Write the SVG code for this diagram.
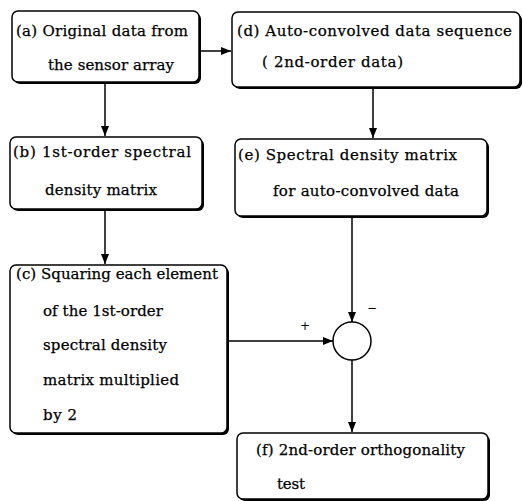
<svg xmlns="http://www.w3.org/2000/svg" width="523" height="501" viewBox="0 0 523 501">
<defs>
<marker id="ah" markerWidth="10" markerHeight="8" refX="10" refY="4" orient="auto" markerUnits="userSpaceOnUse">
<path d="M0,0 L10,4 L0,8 Z" fill="#000"/>
</marker>
</defs>
<style>
.sh{fill:#000;}
.bx{fill:#fff;stroke:#000;stroke-width:1.5;}
.t{font-family:"DejaVu Serif","Liberation Serif",serif;font-size:15px;fill:#000;stroke:#000;stroke-width:0.25;}
.c{fill:none;stroke:#000;stroke-width:1.5;}
.s{font-family:"DejaVu Sans",sans-serif;font-size:12px;fill:#000;}
</style>
<rect width="523" height="501" fill="#fff"/>
<g id="conn">
<line class="c" x1="199" y1="51" x2="231" y2="51" marker-end="url(#ah)"/>
<line class="c" x1="105" y1="83" x2="105" y2="136" marker-end="url(#ah)"/>
<line class="c" x1="105" y1="210" x2="105" y2="264" marker-end="url(#ah)"/>
<line class="c" x1="373" y1="88" x2="373" y2="138" marker-end="url(#ah)"/>
<line class="c" x1="352" y1="217" x2="352" y2="322" marker-end="url(#ah)"/>
<line class="c" x1="228" y1="341" x2="333" y2="341" marker-end="url(#ah)"/>
<line class="c" x1="352" y1="360" x2="352" y2="432" marker-end="url(#ah)"/>
<text class="s" x="300" y="330">+</text>
<text class="s" x="367" y="312">−</text>
</g>
<g id="sum">
<circle cx="352" cy="341" r="19" fill="#fff" stroke="#000" stroke-width="1.5"/>
</g>
<g id="a">
<rect class="sh" x="14" y="13" width="187" height="71" rx="6"/>
<rect class="bx" x="12" y="11" width="187" height="71" rx="6"/>
<text class="t" x="16" y="36" textLength="172" lengthAdjust="spacing">(a)  Original data from</text>
<text class="t" x="48" y="70" textLength="126" lengthAdjust="spacing">the sensor array</text>
</g>
<g id="d">
<rect class="sh" x="234" y="14" width="288" height="75" rx="6"/>
<rect class="bx" x="232" y="12" width="288" height="75" rx="6"/>
<text class="t" x="237" y="36" textLength="275" lengthAdjust="spacing">(d)  Auto-convolved data sequence</text>
<text class="t" x="262" y="67" textLength="141" lengthAdjust="spacing">( 2nd-order data)</text>
</g>
<g id="b">
<rect class="sh" x="12" y="139" width="192" height="72" rx="6"/>
<rect class="bx" x="10" y="137" width="192" height="72" rx="6"/>
<text class="t" x="13" y="157" textLength="178" lengthAdjust="spacing">(b) 1st-order spectral</text>
<text class="t" x="45" y="195" textLength="112" lengthAdjust="spacing">density matrix</text>
</g>
<g id="e">
<rect class="sh" x="237" y="141" width="252" height="77" rx="6"/>
<rect class="bx" x="235" y="139" width="252" height="77" rx="6"/>
<text class="t" x="238" y="160" textLength="219" lengthAdjust="spacing">(e)  Spectral density matrix</text>
<text class="t" x="273" y="196" textLength="186" lengthAdjust="spacing">for auto-convolved data</text>
</g>
<g id="c">
<rect class="sh" x="12" y="267" width="217" height="168" rx="6"/>
<rect class="bx" x="10" y="265" width="217" height="168" rx="6"/>
<text class="t" x="16" y="279" textLength="202" lengthAdjust="spacing">(c) Squaring each element</text>
<text class="t" x="43" y="316" textLength="120" lengthAdjust="spacing">of the 1st-order</text>
<text class="t" x="43" y="350" textLength="124" lengthAdjust="spacing">spectral density</text>
<text class="t" x="43" y="385" textLength="136" lengthAdjust="spacing">matrix multiplied</text>
<text class="t" x="43" y="420" textLength="34" lengthAdjust="spacing">by 2</text>
</g>
<g id="f">
<rect class="sh" x="239" y="435" width="251" height="66" rx="6"/>
<rect class="bx" x="237" y="433" width="251" height="66" rx="6"/>
<text class="t" x="256" y="455" textLength="209" lengthAdjust="spacing">(f) 2nd-order orthogonality</text>
<text class="t" x="277" y="489" textLength="28" lengthAdjust="spacing">test</text>
</g>
</svg>
